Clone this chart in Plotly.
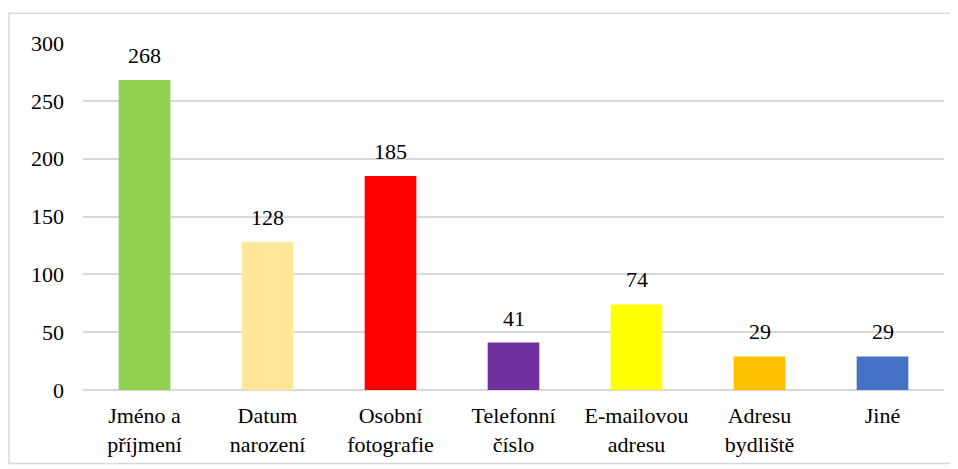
import plotly.graph_objects as go

categories = ["Jméno a<br>příjmení", "Datum<br>narození", "Osobní<br>fotografie",
              "Telefonní<br>číslo", "E-mailovou<br>adresu", "Adresu<br>bydliště", "Jiné"]
values = [268, 128, 185, 41, 74, 29, 29]
colors = ["#92D050", "#FFE699", "#FF0000", "#7030A0", "#FFFF00", "#FFC000", "#4472C4"]
y_ticks = [0, 50, 100, 150, 200, 250, 300]

FONT = "Liberation Serif"
FS = 22

# page body has an 8px margin, so the figure is placed at (8, 8)
W, H = 950, 461
L, R, T, B = 75, 14, 35, 77
pw, ph = W - L - R, H - T - B

fig = go.Figure(go.Bar(
    x=categories, y=values, marker=dict(color=colors, line=dict(width=0)),
    cliponaxis=False,
))

for c, v in zip(categories, values):
    fig.add_annotation(x=c, y=v, xref="x", yref="y", text=str(v), showarrow=False,
                       yanchor="bottom", yshift=10,
                       font=dict(family=FONT, size=FS, color="black"))

def px_x(x):
    return (x - L) / pw

def px_y(y):
    return (H - B - y) / ph

fig.update_layout(
    width=W, height=H,
    margin=dict(l=L, r=R, t=T, b=B),
    paper_bgcolor="white", plot_bgcolor="white",
    bargap=0.58,
    showlegend=False,
    font=dict(family=FONT, size=FS, color="black"),
    xaxis=dict(showgrid=False, showline=False, ticks="",
               tickfont=dict(family=FONT, size=FS, color="black"),
               ticklabelstandoff=10),
    yaxis=dict(range=[0, 300], tickvals=y_ticks, showgrid=True,
               gridcolor="#D9D9D9", gridwidth=1.5, zeroline=True, zerolinecolor="#D9D9D9",
               zerolinewidth=1.5, showline=False, ticks="",
               tickfont=dict(family=FONT, size=FS, color="black"),
               ticklabelstandoff=18),
    shapes=[dict(type="rect", xref="paper", yref="paper",
                 x0=px_x(1), x1=px_x(948), y0=px_y(458), y1=px_y(5),
                 line=dict(color="#D9D9D9", width=1.5), fillcolor="rgba(0,0,0,0)",
                 layer="below")],
)

fig.write_html("out.html")
